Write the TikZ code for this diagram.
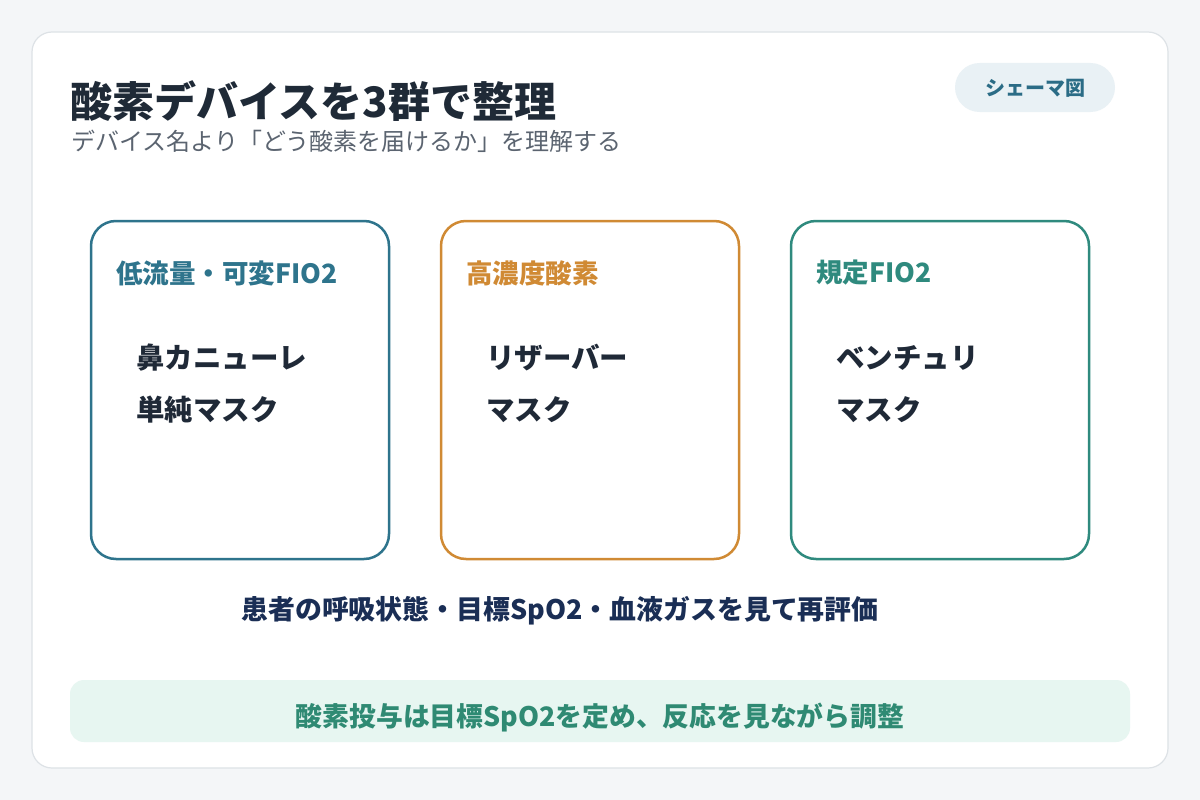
\documentclass[tikz,border=0pt]{standalone}
\usepackage{fontspec}
\setmainfont{Noto Sans CJK JP}
\definecolor{bgc}{HTML}{F4F6F8}
\definecolor{cardline}{HTML}{DDE2E6}
\definecolor{titlec}{HTML}{1F2A37}
\definecolor{subc}{HTML}{5B6470}
\definecolor{badgefill}{HTML}{E9F1F5}
\definecolor{badgetext}{HTML}{2B6C86}
\definecolor{cblue}{HTML}{2E748C}
\definecolor{corange}{HTML}{D08A34}
\definecolor{cteal}{HTML}{2F8A7E}
\definecolor{itemc}{HTML}{1F2937}
\definecolor{navy}{HTML}{1A2E55}
\definecolor{notefill}{HTML}{E7F6F1}
\definecolor{notetext}{HTML}{2F8A73}
\tikzset{
  groupbox/.style={draw=#1, line width=2.5pt, rounded corners=25pt, fill=white},
  grouphead/.style={anchor=west, text=#1, font=\bfseries\fontsize{26.5}{30}\selectfont, inner sep=0pt},
  itemtext/.style={anchor=west, text=itemc, font=\bfseries\fontsize{28.5}{32}\selectfont, inner sep=0pt},
}
\begin{document}
\begin{tikzpicture}[x=1pt,y=-1pt]
\useasboundingbox (0,0) rectangle (1200,800);
\fill[bgc] (0,0) rectangle (1200,800);
\draw[cardline, line width=1.2pt, fill=white, rounded corners=20pt] (32,32) rectangle (1168,768);
% title
\node[anchor=west, inner sep=0pt, text=titlec, font=\bfseries\fontsize{42}{48}\selectfont] (title) at (70,101) {酸素デバイスを3群で整理};
\node[anchor=west, inner sep=0pt, text=subc, font=\fontsize{24}{28}\selectfont] (sub) at (71,141) {デバイス名より「どう酸素を届けるか」を理解する};
% badge
\fill[badgefill, rounded corners=24.5pt] (955,63) rectangle (1115,112);
\node[text=badgetext, font=\bfseries\fontsize{20}{24}\selectfont, inner sep=0pt] (badge) at (1035,88) {シェーマ図};
% boxes
\draw[groupbox=cblue] (91,221) rectangle (389,559);
\draw[groupbox=corange] (441,221) rectangle (739,559);
\draw[groupbox=cteal] (791,221) rectangle (1089,559);
\node[grouphead=cblue] (h1) at (116,273) {低流量・可変FIO2};
\node[grouphead=corange] (h2) at (466,273) {高濃度酸素};
\node[grouphead=cteal] (h3) at (816,273) {規定FIO2};
\node[itemtext] (i11) at (136,358) {鼻カニューレ};
\node[itemtext] (i12) at (136,410) {単純マスク};
\node[itemtext] (i21) at (486,358) {リザーバー};
\node[itemtext] (i22) at (486,410) {マスク};
\node[itemtext] (i31) at (836,358) {ベンチュリ};
\node[itemtext] (i32) at (836,410) {マスク};
% bottom
\node[text=navy, font=\bfseries\fontsize{26.9}{30}\selectfont, inner sep=0pt] (eval) at (560,611) {患者の呼吸状態・目標SpO2・血液ガスを見て再評価};
\fill[notefill, rounded corners=14pt] (70,680) rectangle (1130,742);
\node[text=notetext, font=\bfseries\fontsize{26.8}{30}\selectfont, inner sep=0pt] (note) at (600,718) {酸素投与は目標SpO2を定め、反応を見ながら調整};
\end{tikzpicture}
\end{document}
